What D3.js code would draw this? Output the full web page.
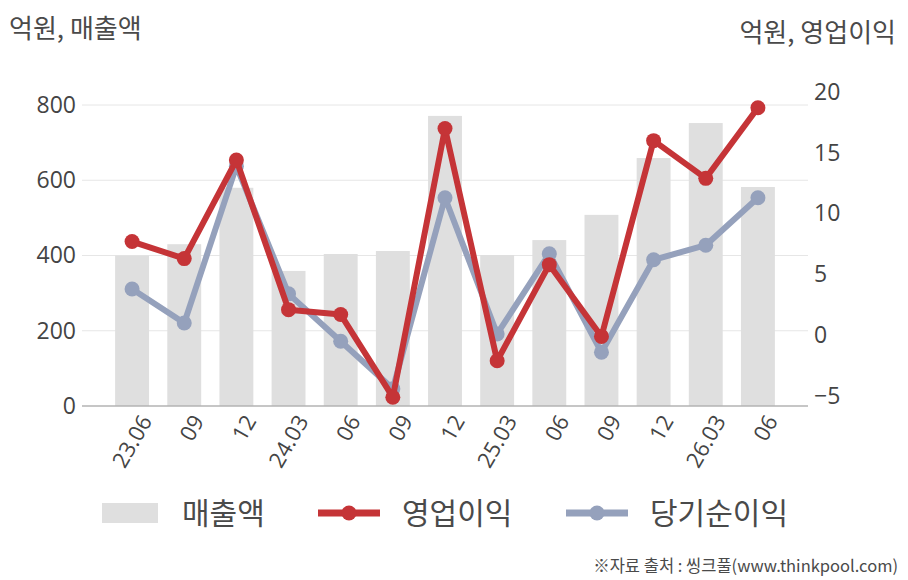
<!DOCTYPE html>
<html>
<head>
<meta charset="utf-8">
<script src="https://d3js.org/d3.v7.min.js"></script>
<style>
  body { margin: 0; background: #fff; }
  svg text { font-family: "Open Sans", "Noto Sans CJK KR", sans-serif; fill: #444; }
  .kr { font-family: "Noto Sans CJK KR", sans-serif; fill: #4a4a4a; }
</style>
</head>
<body>
<div id="chart"></div>
<script>
// data
var categories = ["23.06", "09", "12", "24.03", "06", "09", "12", "25.03", "06", "09", "12", "26.03", "06"];
var sales = [400, 430, 580, 359, 404, 412, 771, 401, 441, 508, 659, 752, 582];
var opProfit = [7.7, 6.3, 14.4, 2.1, 1.7, -5.1, 17.0, -2.1, 5.8, -0.1, 16.0, 12.9, 18.7];
var netProfit = [3.8, 1.0, 13.9, 3.4, -0.5, -4.4, 11.3, 0.1, 6.7, -1.4, 6.2, 7.4, 11.3];
var leftTicks = [0, 200, 400, 600, 800];
var rightTicks = [-5, 0, 5, 10, 15, 20];

var W = 908, H = 580;
var red = "#c53437", blue = "#95a1bc", barColor = "#dfdfdf";

var svg = d3.select("#chart").append("svg")
    .attr("width", W)
    .attr("height", H);

var keys = categories.map(function(d, i) { return i; });

// scales
var x = d3.scaleBand()
    .domain(keys)
    .range([106, 784])
    .paddingInner(0.35)
    .paddingOuter(0.175);

var y = d3.scaleLinear().domain([0, 800]).range([406, 105]);
var y2 = d3.scaleLinear().domain([-5, 20]).range([396, 92]);

// grid lines
svg.append("g").selectAll("line")
    .data(leftTicks.slice(1))
    .enter().append("line")
    .attr("x1", 82).attr("x2", 808)
    .attr("y1", function(d) { return y(d); })
    .attr("y2", function(d) { return y(d); })
    .attr("stroke", "#e6e6e6")
    .attr("stroke-width", 1);

// bars
svg.append("g").selectAll("rect")
    .data(sales)
    .enter().append("rect")
    .attr("x", function(d, i) { return x(i); })
    .attr("y", function(d) { return y(d); })
    .attr("width", x.bandwidth())
    .attr("height", function(d) { return y(0) - y(d); })
    .attr("fill", barColor);

// base line
svg.append("line")
    .attr("x1", 82).attr("x2", 808)
    .attr("y1", y(0)).attr("y2", y(0))
    .attr("stroke", "#b3b3b3")
    .attr("stroke-width", 1.5);

// left axis
var yAxis = d3.axisLeft(y).tickValues(leftTicks).tickSize(0).tickPadding(0);
var gl = svg.append("g").attr("transform", "translate(76,0)").call(yAxis);
gl.select(".domain").remove();
gl.selectAll("text").style("font-size", "23px").attr("fill", "#444");

// right axis
var yAxis2 = d3.axisRight(y2).tickValues(rightTicks).tickSize(0).tickPadding(0);
var gr = svg.append("g").attr("transform", "translate(814,0)").call(yAxis2);
gr.select(".domain").remove();
gr.selectAll("text").style("font-size", "23px").attr("fill", "#444");

// x labels
var xAxis = d3.axisBottom(x).tickSize(0).tickFormat(function(i) { return categories[i]; });
var gx = svg.append("g").attr("transform", "translate(0,406)").call(xAxis);
gx.select(".domain").remove();
gx.selectAll("text")
    .style("font-size", "22px")
    .attr("fill", "#444")
    .attr("text-anchor", "end")
    .attr("transform", "translate(14,11) rotate(-60)")
    .attr("x", 0)
    .attr("y", 0)
    .attr("dy", "0.35em");

// lines
function drawLine(values, color) {
    var line = d3.line()
        .x(function(d, i) { return x(i) + x.bandwidth() / 2; })
        .y(function(d) { return y2(d); });
    svg.append("path")
        .datum(values)
        .attr("d", line)
        .attr("fill", "none")
        .attr("stroke", color)
        .attr("stroke-width", 6)
        .attr("stroke-linejoin", "round");
    svg.append("g").selectAll("circle")
        .data(values)
        .enter().append("circle")
        .attr("cx", function(d, i) { return x(i) + x.bandwidth() / 2; })
        .attr("cy", function(d) { return y2(d); })
        .attr("r", 7.5)
        .attr("fill", color);
}
drawLine(netProfit, blue);
drawLine(opProfit, red);

// titles
svg.append("text").attr("class", "kr")
    .attr("x", 9).attr("y", 38)
    .style("font-size", "26px")
    .text("억원, 매출액");
svg.append("text").attr("class", "kr")
    .attr("x", 896).attr("y", 42)
    .attr("text-anchor", "end")
    .style("font-size", "26px")
    .text("억원, 영업이익");

// legend
var lg = svg.append("g");
lg.append("rect").attr("x", 102).attr("y", 503).attr("width", 56).attr("height", 20).attr("fill", barColor);
lg.append("text").attr("class", "kr").attr("x", 182).attr("y", 524).style("font-size", "30px").text("매출액");

lg.append("line").attr("x1", 318).attr("x2", 380).attr("y1", 513).attr("y2", 513)
    .attr("stroke", red).attr("stroke-width", 7);
lg.append("circle").attr("cx", 349).attr("cy", 513).attr("r", 7.5).attr("fill", red);
lg.append("text").attr("class", "kr").attr("x", 402).attr("y", 524).style("font-size", "30px").text("영업이익");

lg.append("line").attr("x1", 566).attr("x2", 628).attr("y1", 513).attr("y2", 513)
    .attr("stroke", blue).attr("stroke-width", 7);
lg.append("circle").attr("cx", 597).attr("cy", 513).attr("r", 7.5).attr("fill", blue);
lg.append("text").attr("class", "kr").attr("x", 650).attr("y", 524).style("font-size", "30px").text("당기순이익");

// source
svg.append("text").attr("class", "kr")
    .attr("x", 898).attr("y", 572)
    .attr("text-anchor", "end")
    .style("font-size", "16.5px")
    .text("※자료 출처 : 씽크풀(www.thinkpool.com)");
</script>
</body>
</html>
